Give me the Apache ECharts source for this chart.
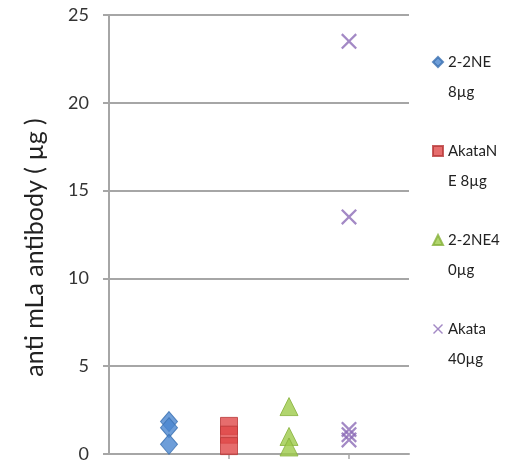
<!DOCTYPE html>
<html>
<head>
<meta charset="utf-8">
<script src="https://cdn.jsdelivr.net/npm/echarts@6/dist/echarts.min.js"></script>
<style>
html,body{margin:0;padding:0;background:#fff;}
#chart{width:516px;height:466px;}
</style>
</head>
<body>
<div id="chart"></div>
<script>
// Data
const seriesNames = ['2-2NE 8µg', 'AkataNE 8µg', '2-2NE40µg', 'Akata 40µg'];
const legendLines = [['2-2NE', '8µg'], ['AkataN', 'E 8µg'], ['2-2NE4', '0µg'], ['Akata', '40µg']];
const groupX = [1, 2, 3, 4];
const values2NE8 = [1.85, 1.5, 0.55];
const valuesAkataNE8 = [1.6, 1.1, 0.45];
const values2NE40 = [2.7, 1.0, 0.4];
const valuesAkata40 = [23.5, 13.5, 1.4, 1.1, 0.8];
const yTicks = [0, 5, 10, 15, 20, 25];
const yTitle = 'anti mLa antibody ( µg )';

const allValues = [values2NE8, valuesAkataNE8, values2NE40, valuesAkata40];
const colors = ['#4a86d0', '#e04848', '#9dcb4a', '#8c6bb6'];
const borders = ['#3a6fb0', '#b83838', '#86b03a', '#8c6bb6'];
const xPath = 'path://M0,1 L1,0 L5,4 L9,0 L10,1 L6,5 L10,9 L9,10 L5,6 L1,10 L0,9 L4,5 Z';
const symbols = ['diamond', 'rect', 'triangle', xPath];
const sizes = [[17, 20], 17, 18, 16];
const FONT = 'Lato';

const series = allValues.map((vals, i) => ({
  name: seriesNames[i],
  type: 'scatter',
  data: vals.map(v => [groupX[i], v]),
  symbol: symbols[i],
  symbolSize: sizes[i],
  itemStyle: { color: colors[i], borderColor: borders[i], borderWidth: i === 3 ? 0 : 1 },
  emphasis: { disabled: true }
}));

const chart = echarts.init(document.getElementById('chart'), null, { renderer: 'canvas' });
chart.setOption({
  animation: false,
  backgroundColor: '#ffffff',
  grid: { left: 109, right: 107, top: 15, bottom: 12, containLabel: false },
  xAxis: {
    type: 'value', min: 0, max: 5, interval: 1,
    axisLine: { show: true, lineStyle: { color: '#a6a6a6', width: 2 } },
    axisTick: { show: true, length: 5, customValues: [2, 4], lineStyle: { color: '#a6a6a6', width: 1.5 } },
    axisLabel: { show: false },
    splitLine: { show: false }
  },
  yAxis: {
    type: 'value', min: yTicks[0], max: yTicks[yTicks.length - 1], interval: 5,
    name: yTitle, nameLocation: 'middle', nameGap: 62, nameRotate: 90,
    nameTextStyle: { fontFamily: FONT, fontSize: 25, color: '#222', padding: [0, 26, 0, 0] },
    axisLine: { show: true, lineStyle: { color: '#a6a6a6', width: 2 } },
    axisTick: { show: true, length: 6, lineStyle: { color: '#a6a6a6', width: 2 } },
    axisLabel: { fontFamily: FONT, fontSize: 18, color: '#333', margin: 20 },
    splitLine: { show: true, lineStyle: { color: '#a6a6a6', width: 2 } }
  },
  legend: {
    orient: 'vertical', left: 427, top: 12,
    itemWidth: 10, itemHeight: 10, itemGap: -1,
    data: seriesNames.map((n, i) => ({ name: n, icon: i === 3 ? xPath : (i === 1 ? 'rect' : symbols[i]) })),
    formatter: name => { const l = legendLines[seriesNames.indexOf(name)]; return ' \n' + l[0] + '\n' + l[1]; },
    textStyle: { fontFamily: FONT, fontSize: 15, color: '#222', lineHeight: 30 },
    selectedMode: false
  },
  series: series
});
</script>
</body>
</html>
